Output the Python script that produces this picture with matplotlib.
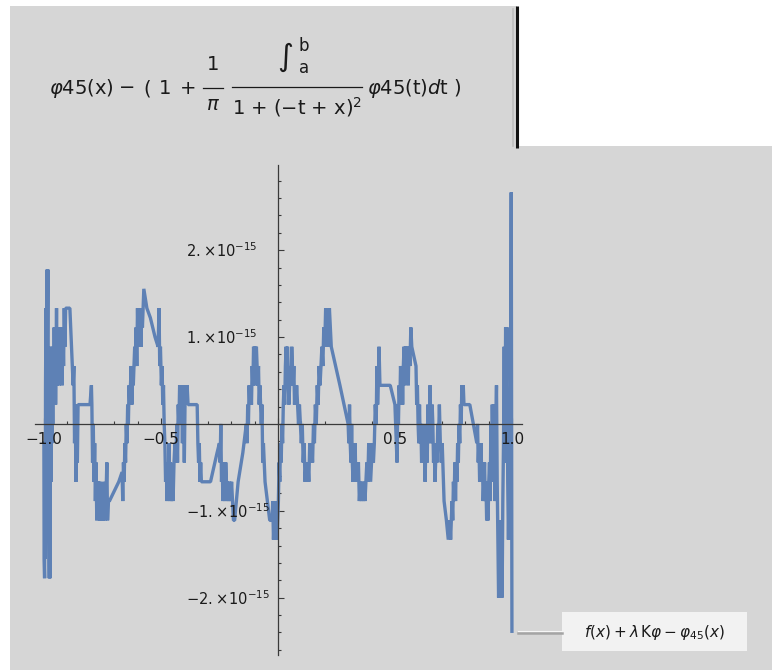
import matplotlib
matplotlib.use("Agg")
import matplotlib.pyplot as plt
from matplotlib.patches import Rectangle
from matplotlib.ticker import MultipleLocator

# residual f(x) + lambda K phi - phi45(x).
# x in data units, y in units of the double precision step 2^-53
x_a = [-1.000, -0.999, -0.997, -0.996, -0.994, -0.993, -0.991, -0.990, -0.988,
       -0.986, -0.985, -0.983, -0.982, -0.980, -0.979, -0.977, -0.976, -0.974,
       -0.973, -0.971, -0.969, -0.968, -0.966, -0.964, -0.962, -0.960, -0.958,
       -0.956, -0.954, -0.952, -0.950, -0.948, -0.946, -0.944, -0.942, -0.940]
k_a = [-2, -14, -16, -4, -14, 4, 12, -8, 12,
       16, 6, 16, -6, 8, -10, -16, -6, -16,
       -4, 4, -6, 8, -2, 6, 0, 8, 2,
       10, 4, 8, 2, 6, 12, 4, 10, 6]

x_b = [-0.937, -0.934, -0.931, -0.928, -0.925, -0.922, -0.919, -0.916, -0.913,
       -0.910, -0.907, -0.889, -0.875, -0.872, -0.869, -0.866, -0.863, -0.860,
       -0.857, -0.854, -0.846]
k_b = [8, 4, 10, 6, 8, 4, 10, 6, 12,
       8, 12, 12, 4, 6, -2, 2, -6, 0,
       -4, 2, 2]

x_c = [-0.803, -0.797, -0.795, -0.792, -0.789, -0.786, -0.783, -0.780, -0.777,
       -0.774, -0.771, -0.768, -0.765, -0.762, -0.758, -0.755, -0.751, -0.747,
       -0.743, -0.739, -0.735, -0.731, -0.728, -0.724, -0.720]
k_c = [2, 4, 2, -4, 0, -6, -2, -8, -4,
       -10, -6, -8, -6, -10, -6, -10, -8, -10,
       -6, -10, -8, -4, -10, -8, -8]

x_d = [-0.700, -0.680, -0.666, -0.663, -0.660, -0.657, -0.654, -0.651, -0.648,
       -0.645, -0.642, -0.639, -0.636, -0.633, -0.630, -0.627, -0.624, -0.621,
       -0.618, -0.615, -0.612, -0.609, -0.606, -0.603, -0.600, -0.597, -0.594,
       -0.591, -0.588, -0.585, -0.582, -0.579, -0.576, -0.573]
k_d = [-7, -6, -5, -8, -4, -6, -2, -4, 0,
       -2, 2, 0, 4, 2, 4, 6, 2, 6,
       4, 6, 8, 6, 10, 6, 12, 8, 12,
       10, 12, 8, 12, 10, 12, 14]

x_e = [-0.560, -0.545, -0.525, -0.512, -0.508, -0.505, -0.502, -0.498, -0.495,
       -0.492, -0.489, -0.486, -0.483, -0.480, -0.477, -0.474, -0.471, -0.468,
       -0.465, -0.462, -0.459, -0.456, -0.452, -0.448, -0.444, -0.440, -0.436,
       -0.432, -0.429, -0.426, -0.423, -0.420, -0.416, -0.412, -0.408, -0.404,
       -0.400, -0.396, -0.392, -0.388, -0.384]
k_e = [12, 11, 9, 8, 12, 6, 8, 4, 6,
       2, 4, 0, -2, -6, -4, -8, -4, -6,
       -2, -8, -4, -8, -6, -8, -4, -2, -4,
       0, -4, 2, 0, 4, 2, 4, -2, 4,
       -4, 4, 2, 4, 2]

x_f = [-0.345, -0.342, -0.339, -0.336, -0.333, -0.330, -0.327, -0.288, -0.260,
       -0.250, -0.247, -0.244, -0.241, -0.238, -0.235, -0.232, -0.229, -0.226,
       -0.223, -0.220, -0.217, -0.214, -0.210, -0.206, -0.202, -0.198, -0.190,
       -0.185, -0.170, -0.150, -0.135]
k_f = [2, -2, -4, -2, -6, -4, -6, -6, -3,
       -2, -4, 0, -6, -4, -8, -4, -6, -8,
       -4, -6, -8, -6, -8, -6, -8, -6, -10,
       -10, -6, -3, 0]

x_g = [-0.132, -0.129, -0.126, -0.123, -0.120, -0.117, -0.113, -0.110, -0.107,
       -0.104, -0.101, -0.098, -0.095, -0.092, -0.089, -0.086, -0.083, -0.080,
       -0.077, -0.074, -0.071, -0.068, -0.065, -0.062, -0.055, -0.045, -0.035,
       -0.025, -0.022, -0.019, -0.016, -0.013, -0.010, -0.007, -0.004, -0.001,
       0.002, 0.005, 0.008, 0.011, 0.014, 0.017, 0.020]
k_g = [-2, 2, 0, 4, 2, 4, 2, 6, 4,
       8, 6, 8, 4, 8, 6, 4, 6, 2,
       4, 2, 0, 2, -4, -2, -6, -8, -10,
       -10, -8, -12, -10, -12, -10, -8, -12, -10,
       -8, -4, -6, -2, -4, 0, -2]

x_h = [0.023, 0.026, 0.029, 0.032, 0.035, 0.038, 0.041, 0.044, 0.047, 0.050,
       0.053, 0.056, 0.059, 0.062, 0.065, 0.068, 0.071, 0.074, 0.077, 0.080,
       0.084, 0.088, 0.092, 0.096, 0.100, 0.104, 0.108, 0.112, 0.116, 0.120,
       0.124, 0.128, 0.132, 0.136, 0.140, 0.144, 0.148, 0.152, 0.156, 0.160,
       0.164, 0.168, 0.172, 0.176, 0.180, 0.184, 0.188, 0.192, 0.196, 0.200,
       0.204, 0.208, 0.212, 0.216, 0.220, 0.224, 0.228]
k_h = [2, 4, 2, 6, 8, 4, 8, 4, 2, 4,
       6, 4, 8, 6, 4, 6, 2, 4, 2, 4,
       2, 0, 2, 0, -2, 0, -4, -2, -6, -4,
       -6, -4, -6, -2, -4, -2, -4, 0, -2, 2,
       0, 4, 2, 6, 4, 6, 8, 6, 10, 8,
       12, 8, 10, 8, 12, 10, 8]

x_i = [0.265, 0.300, 0.303, 0.306, 0.309, 0.312, 0.315, 0.318, 0.321, 0.324,
       0.327, 0.330, 0.333, 0.336, 0.340, 0.344, 0.348, 0.352, 0.356, 0.360,
       0.364, 0.368, 0.372, 0.376, 0.380, 0.384, 0.388, 0.392, 0.396, 0.400,
       0.404, 0.408, 0.412, 0.416, 0.420, 0.423, 0.426, 0.429, 0.432, 0.436,
       0.480, 0.500, 0.503, 0.506, 0.509, 0.512, 0.515, 0.518, 0.521, 0.524,
       0.527, 0.530, 0.533, 0.536, 0.539, 0.542, 0.545, 0.548, 0.551, 0.554,
       0.557, 0.560, 0.564, 0.568, 0.572]
k_i = [4, 0, -2, 2, -2, -4, 0, -4, -6, -2,
       -4, -2, -6, -4, -6, -4, -8, -6, -8, -6,
       -8, -6, -8, -6, -4, -6, -2, -4, -6, -4,
       -2, -4, -2, 2, 0, 6, 2, 4, 8, 4,
       4, 2, 0, -2, -4, 2, 0, 4, 2, 6,
       4, 6, 2, 6, 8, 4, 8, 6, 8, 6,
       4, 8, 6, 10, 8]

x_j = [0.590, 0.593, 0.596, 0.599, 0.602, 0.605, 0.608, 0.611, 0.614, 0.617,
       0.620, 0.623, 0.626, 0.629, 0.632, 0.635, 0.638, 0.641, 0.644, 0.647,
       0.650, 0.653, 0.656, 0.659, 0.662, 0.665, 0.668, 0.671, 0.674, 0.677,
       0.680, 0.683, 0.686, 0.690, 0.694, 0.698, 0.702, 0.710, 0.720, 0.728,
       0.735, 0.738, 0.741, 0.744, 0.747, 0.750, 0.753, 0.756, 0.759, 0.762,
       0.765, 0.768, 0.771, 0.774, 0.777, 0.780, 0.783, 0.786, 0.789, 0.792,
       0.795, 0.820]
k_j = [6, 2, 4, 0, -2, 2, -2, 0, -4, -2,
       0, -4, -2, -6, -2, 0, -4, 2, -2, 0,
       4, 0, -2, 2, 0, -4, -2, -6, -4, -2,
       -4, 0, -2, 2, -2, -4, -2, -8, -10, -12,
       -10, -12, -10, -8, -10, -6, -8, -4, -8, -4,
       -6, -2, -4, 0, -2, 2, 0, 4, 2, 4,
       2, 2]

x_k = [0.835, 0.850, 0.853, 0.856, 0.859, 0.862, 0.865, 0.868, 0.871, 0.874,
       0.877, 0.880, 0.883, 0.886, 0.889, 0.892, 0.895, 0.898, 0.901, 0.904,
       0.907, 0.910, 0.913, 0.916, 0.919, 0.922, 0.925, 0.928, 0.931, 0.934,
       0.937, 0.940, 0.943, 0.946, 0.949, 0.952, 0.955, 0.958, 0.961, 0.964,
       0.967, 0.970, 0.973, 0.976, 0.979, 0.982, 0.985, 0.988, 0.991, 0.994,
       0.997, 1.000]
k_k = [0, -2, 0, -4, -2, -6, -4, -2, -6, -4,
       -8, -6, -4, -8, -6, -10, -8, -10, -6, -4,
       -8, 0, -4, 2, -2, -6, 2, -8, 0, 4,
       -6, -12, -18, -14, -18, -10, -14, -18, -8, -2,
       8, -4, 10, 4, 10, -6, -12, -6, -12, 0,
       24, -21.5]

x_ticks = [-1.0, -0.5, 0.5, 1.0]
x_tick_labels = ["\u22121.0", "\u22120.5", "0.5", "1.0"]
y_ticks = [2e-15, 1e-15, -1e-15, -2e-15]
y_tick_labels = [r"$2.\!\times\!10^{-15}$", r"$1.\!\times\!10^{-15}$",
                 r"$-1.\!\times\!10^{-15}$", r"$-2.\!\times\!10^{-15}$"]
legend_label = r"$f(x)+\lambda\,\mathrm{K}\varphi-\varphi_{45}(x)$"

eps = 2.0 ** -53
x_pts = x_a + x_b + x_c + x_d + x_e + x_f + x_g + x_h + x_i + x_j + x_k
k_all = k_a + k_b + k_c + k_d + k_e + k_f + k_g + k_h + k_i + k_j + k_k
assert len(x_pts) == len(k_all), (len(x_pts), len(k_all))
y_pts = [k * eps for k in k_all]

GRAY = "#d6d6d6"
BLUE = "#5e81b5"
INK = "#1a1a1a"
W, H = 772, 670

fig = plt.figure(figsize=(W / 100, H / 100), dpi=100)
fig.patch.set_facecolor("white")

# background panels, pixel coordinates
bg = fig.add_axes([0, 0, 1, 1])
bg.set_xlim(0, W)
bg.set_ylim(H, 0)
bg.axis("off")
bg.add_patch(Rectangle((10, 6), 507, 141, color=GRAY, lw=0))
bg.add_patch(Rectangle((10, 146), 762, 524, color=GRAY, lw=0))
bg.plot([513, 513], [9, 146], color="#bdbdbd", lw=1.2)
bg.plot([516.5, 516.5], [6, 148], color="#111111", lw=2.2, solid_capstyle="butt")

# formula header
fs = 14
bg.text(49, 89, r"$\varphi$45(x)", fontsize=fs, ha="left", va="center", color=INK)
bg.text(127, 88, "\u2212", fontsize=fs, ha="center", va="center", color=INK)
bg.text(147, 89, "(", fontsize=fs, ha="center", va="center", color=INK)
bg.text(165, 88, "1", fontsize=fs, ha="center", va="center", color=INK)
bg.text(188, 88, "+", fontsize=fs, ha="center", va="center", color=INK)
bg.text(213, 64, "1", fontsize=fs, ha="center", va="center", color=INK)
bg.plot([203, 223], [88, 88], color=INK, lw=0.9)
bg.text(213, 105, r"$\pi$", fontsize=fs, ha="center", va="center", color=INK)
bg.text(293, 57, "\u222b", fontsize=22, ha="right", va="center", color=INK)
bg.text(299, 46, "b", fontsize=12, ha="left", va="center", color=INK)
bg.text(299, 68, "a", fontsize=12, ha="left", va="center", color=INK)
bg.plot([232, 362], [87, 87], color=INK, lw=0.9)
bg.text(297, 107, "1 + (\u2212t + x)$^{2}$", fontsize=fs, ha="center", va="center", color=INK)
bg.text(367, 89, r"$\varphi$45(t)$d$t )", fontsize=fs, ha="left", va="center", color=INK)

# legend
bg.add_patch(Rectangle((562, 612), 185, 39, color="#f2f2f2", lw=0))
bg.plot([518, 562], [633, 633], color="#a4a4a4", lw=1.8)
bg.plot([518, 562], [631.3, 631.3], color="#f6f6f6", lw=0.8)
bg.text(654, 632, legend_label, fontsize=11, ha="center", va="center", color=INK)

# plot axes
ax = fig.add_axes([35 / W, 1 - 655 / H, 487 / W, 490 / H])
ax.patch.set_alpha(0)
ax.set_xlim(-1.038, 1.043)
ax.set_ylim(-2.66e-15, 2.98e-15)
for s in ("top", "right"):
    ax.spines[s].set_visible(False)
for s in ("left", "bottom"):
    ax.spines[s].set_position(("data", 0))
    ax.spines[s].set_color("#3a3a3a")
    ax.spines[s].set_linewidth(0.9)
ax.xaxis.set_major_locator(MultipleLocator(0.5))
ax.xaxis.set_minor_locator(MultipleLocator(0.1))
ax.yaxis.set_major_locator(MultipleLocator(1e-15))
ax.yaxis.set_minor_locator(MultipleLocator(2e-16))
ax.tick_params(which="both", direction="in", labelbottom=False, labelleft=False,
               color="#3a3a3a", width=0.8)
ax.tick_params(which="major", length=4)
ax.tick_params(which="minor", length=2.3)
ax.yaxis.get_offset_text().set_visible(False)

ax.plot(x_pts, y_pts, color=BLUE, lw=2.4, solid_joinstyle="bevel", clip_on=False)

for xv, lab in zip(x_ticks, x_tick_labels):
    ax.annotate(lab, xy=(xv, 0), xytext=(0, -16), textcoords="offset pixels",
                ha="center", va="center", fontsize=11, color=INK)
for yv, lab in zip(y_ticks, y_tick_labels):
    dx = -20 if yv > 0 else -8
    ax.annotate(lab, xy=(0, yv), xytext=(dx, -1), textcoords="offset pixels",
                ha="right", va="center", fontsize=10.5, color=INK)

fig.savefig("out.png", dpi=100, facecolor="white")
